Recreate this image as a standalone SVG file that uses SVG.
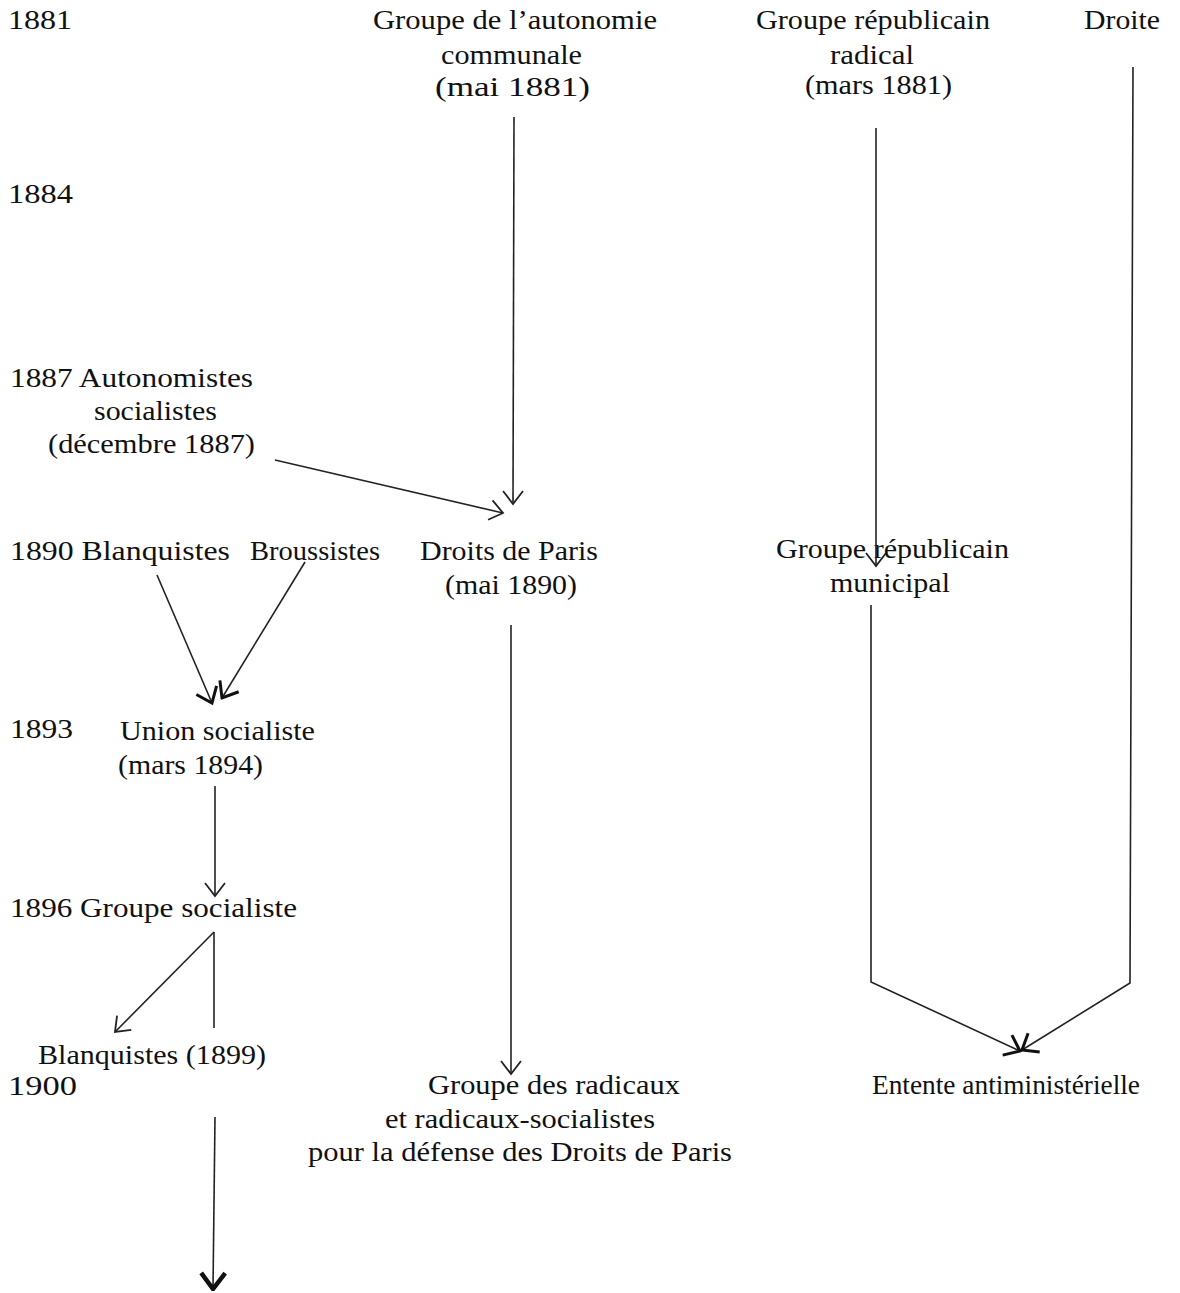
<svg xmlns="http://www.w3.org/2000/svg" width="1180" height="1293" viewBox="0 0 1180 1293">
<style>
text{font-family:"Liberation Serif","Times New Roman",serif;font-size:27px;fill:#111}
.ln{stroke:#222;stroke-width:1.6;fill:none}
</style>
<defs>
<marker id="v" viewBox="-14 -12 16 24" markerWidth="16" markerHeight="24" refX="0" refY="0" orient="auto" markerUnits="userSpaceOnUse">
<path d="M-13,-10 L0,0 L-13,10" fill="none" stroke="#222" stroke-width="1.8"/>
</marker>
<marker id="vt" viewBox="-16 -13 18 26" markerWidth="18" markerHeight="26" refX="0" refY="0" orient="auto" markerUnits="userSpaceOnUse">
<path d="M-14,-11 L0,0 L-14,11" fill="none" stroke="#111" stroke-width="3"/>
</marker>
<marker id="vb" viewBox="-18 -14 20 28" markerWidth="20" markerHeight="28" refX="0" refY="0" orient="auto" markerUnits="userSpaceOnUse">
<path d="M-16,-12 L0,0 L-16,12" fill="none" stroke="#111" stroke-width="4.5"/>
</marker>
</defs>
<rect width="1180" height="1293" fill="#fff"/>
<g id="years">
<text x="8" y="29" textLength="64" lengthAdjust="spacingAndGlyphs">1881</text>
<text x="8" y="203" textLength="65" lengthAdjust="spacingAndGlyphs">1884</text>
<text x="10" y="738" textLength="63" lengthAdjust="spacingAndGlyphs">1893</text>
<text x="8" y="1095" textLength="69" lengthAdjust="spacingAndGlyphs">1900</text>
</g>
<g id="n-autonomie">
<text x="373" y="29" textLength="284" lengthAdjust="spacingAndGlyphs">Groupe de l’autonomie</text>
<text x="441" y="64" textLength="141" lengthAdjust="spacingAndGlyphs">communale</text>
<text x="435" y="96" textLength="155" lengthAdjust="spacingAndGlyphs">(mai 1881)</text>
</g>
<g id="n-radical">
<text x="756" y="29" textLength="234" lengthAdjust="spacingAndGlyphs">Groupe républicain</text>
<text x="830" y="64" textLength="84" lengthAdjust="spacingAndGlyphs">radical</text>
<text x="805" y="94" textLength="147" lengthAdjust="spacingAndGlyphs">(mars 1881)</text>
</g>
<g id="n-droite"><text x="1084" y="29" textLength="76" lengthAdjust="spacingAndGlyphs">Droite</text></g>
<g id="n-autonomistes">
<text x="10" y="387" textLength="243" lengthAdjust="spacingAndGlyphs">1887 Autonomistes</text>
<text x="94" y="420" textLength="123" lengthAdjust="spacingAndGlyphs">socialistes</text>
<text x="48" y="453" textLength="207" lengthAdjust="spacingAndGlyphs">(décembre 1887)</text>
</g>
<g id="n-blanquistes"><text x="10" y="560" textLength="220" lengthAdjust="spacingAndGlyphs">1890 Blanquistes</text></g>
<g id="n-broussistes"><text x="250" y="560" textLength="130" lengthAdjust="spacingAndGlyphs">Broussistes</text></g>
<g id="n-droits">
<text x="420" y="560" textLength="178" lengthAdjust="spacingAndGlyphs">Droits de Paris</text>
<text x="445" y="594" textLength="132" lengthAdjust="spacingAndGlyphs">(mai 1890)</text>
</g>
<g id="n-municipal">
<text x="776" y="558" textLength="233" lengthAdjust="spacingAndGlyphs">Groupe républicain</text>
<text x="830" y="592" textLength="120" lengthAdjust="spacingAndGlyphs">municipal</text>
</g>
<g id="n-union">
<text x="120" y="740" textLength="195" lengthAdjust="spacingAndGlyphs">Union socialiste</text>
<text x="118" y="774" textLength="145" lengthAdjust="spacingAndGlyphs">(mars 1894)</text>
</g>
<g id="n-groupe-soc"><text x="10" y="917" textLength="287" lengthAdjust="spacingAndGlyphs">1896 Groupe socialiste</text></g>
<g id="n-blanq1899"><text x="38" y="1064" textLength="228" lengthAdjust="spacingAndGlyphs">Blanquistes (1899)</text></g>
<g id="n-radicaux">
<text x="428" y="1094" textLength="252" lengthAdjust="spacingAndGlyphs">Groupe des radicaux</text>
<text x="385" y="1128" textLength="270" lengthAdjust="spacingAndGlyphs">et radicaux-socialistes</text>
<text x="308" y="1161" textLength="424" lengthAdjust="spacingAndGlyphs">pour la défense des Droits de Paris</text>
</g>
<g id="n-entente"><text x="872" y="1094" textLength="268" lengthAdjust="spacingAndGlyphs">Entente antiministérielle</text></g>
<g id="connectors">
<line class="ln" x1="514" y1="117" x2="513" y2="504" marker-end="url(#v)"/>
<line class="ln" x1="876" y1="128" x2="876" y2="566" marker-end="url(#v)"/>
<line class="ln" x1="275" y1="460" x2="503" y2="513" marker-end="url(#v)"/>
<line class="ln" x1="157" y1="575" x2="212" y2="703" marker-end="url(#vt)"/>
<line class="ln" x1="305" y1="562" x2="222" y2="698" marker-end="url(#vt)"/>
<line class="ln" x1="215" y1="786" x2="215" y2="896" marker-end="url(#v)"/>
<line class="ln" x1="511" y1="625" x2="511" y2="1074" marker-end="url(#v)"/>
<line class="ln" x1="214" y1="932" x2="115" y2="1032" marker-end="url(#v)"/>
<line class="ln" x1="214" y1="932" x2="214" y2="1028"/>
<polyline class="ln" points="871,605 871,982 1020,1051" marker-end="url(#vt)"/>
<polyline class="ln" points="1133,67 1130,983 1022,1050" marker-end="url(#vt)"/>
<line class="ln" x1="215" y1="1117" x2="213" y2="1289" stroke-width="2.2" marker-end="url(#vb)"/>
</g>
</svg>
